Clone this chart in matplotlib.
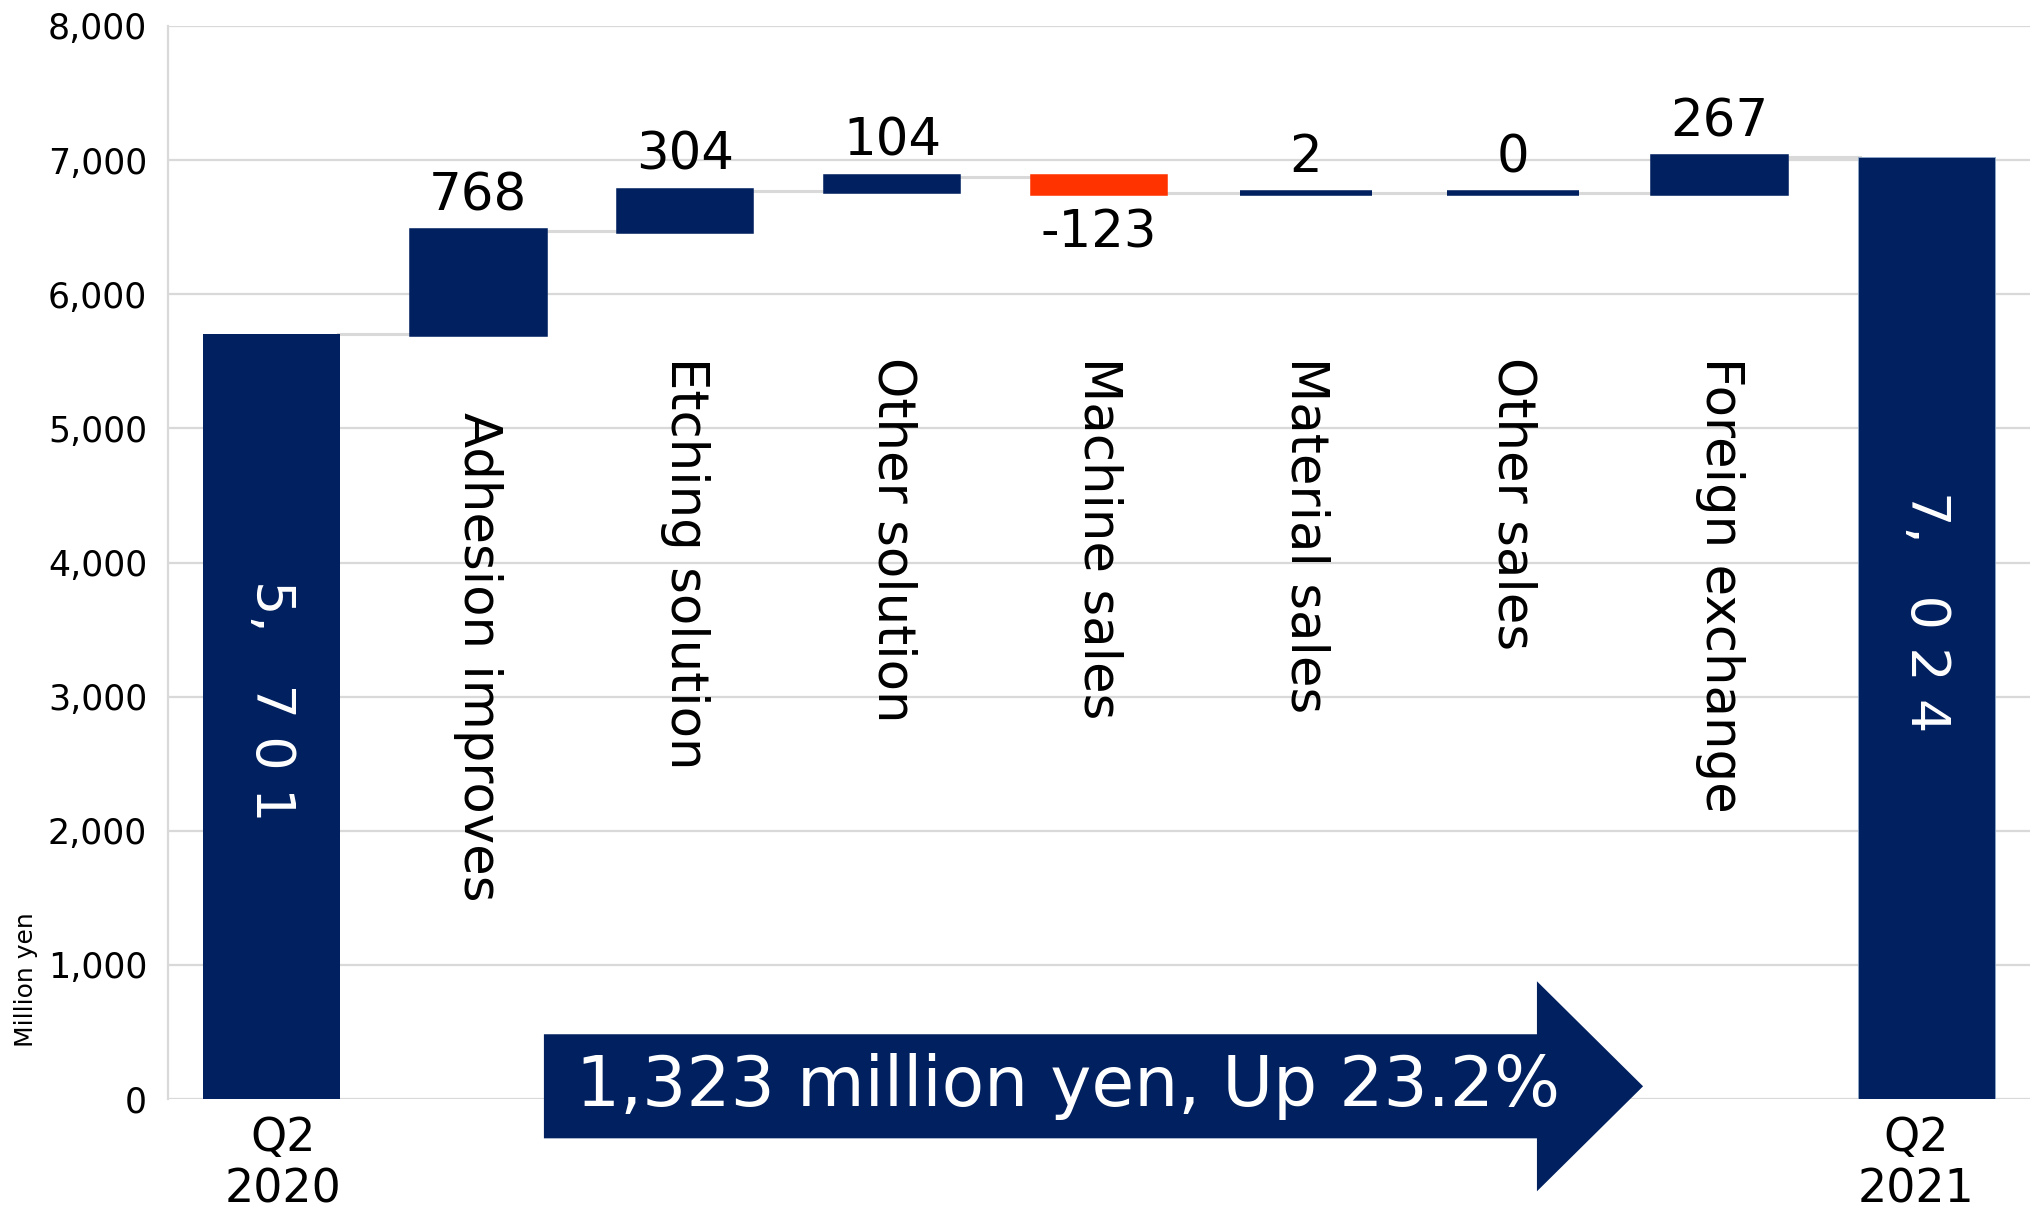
import matplotlib.pyplot as plt
import matplotlib.transforms as mtransforms
from matplotlib.patches import Polygon

# data
categories = ["Q2\n2020", "Adhesion improves", "Etching solution", "Other solution",
              "Machine sales", "Material sales", "Other sales", "Foreign exchange", "Q2\n2021"]
start_value = 5701
changes = [768, 304, 104, -123, 2, 0, 267]
end_value = 7024
label_tops = [5120, 5530, 5530, 5530, 5530, 5530, 5530]
arrow_text = "1,323 million yen, Up 23.2%"

navy = "#002060"
red = "#FF3300"
grey = "#D9D9D9"

fig = plt.figure(figsize=(20.34, 12.14), dpi=100)
ax = fig.add_axes([0.0826, 0.0947, 0.9154, 0.8839])

n = len(categories)
x = list(range(n))
w = 0.64

# running totals
bottoms, heights = [], []
level = start_value
for c in changes:
    bottoms.append(level if c >= 0 else level + c)
    heights.append(abs(c))
    level += c

ax.bar(x[0], start_value, width=0.665, color=navy, edgecolor=navy, lw=0, zorder=3)
ax.bar(x[-1], end_value, width=0.665, color=navy, edgecolor="#8EA9C8", lw=0.6, zorder=3)
cols = [navy if c >= 0 else red for c in changes]
ax.bar(x[1:-1], heights, bottom=bottoms, width=w, color=cols, edgecolor=cols, lw=4, zorder=3)

# connector lines
tops = [start_value]
level = start_value
for c in changes:
    level += c
    tops.append(level)
for i in range(n - 1):
    ax.plot([x[i] + w / 2, x[i + 1] - w / 2], [tops[i], tops[i]], color=grey, lw=2.2, zorder=2)

# value labels
for i, c in enumerate(changes):
    xi = x[i + 1]
    if c >= 0:
        ax.annotate(f"{c:,}", (xi, bottoms[i] + heights[i]), xytext=(0, 15), textcoords="offset points",
                    ha="center", va="baseline", fontsize=37, color="black")
    else:
        ax.annotate(f"{c:,}", (xi, bottoms[i]), xytext=(0, -11), textcoords="offset points",
                    ha="center", va="top", fontsize=37, color="black")


def spaced(v):
    head, tail = f"{v:,}".split(",")
    return head + ",   " + " ".join(tail)


ax.text(x[0], start_value / 2 + 120, spaced(start_value), rotation=-90, ha="center", va="center",
        fontsize=39, color="white", zorder=4)
ax.text(x[-1], end_value / 2 + 120, spaced(end_value), rotation=-90, ha="center", va="center",
        fontsize=39, color="white", zorder=4)

# category labels inside the chart
for i, name in enumerate(categories[1:-1]):
    ax.text(x[i + 1], label_tops[i], name, rotation=-90, ha="center", va="top",
            fontsize=37, color="black", zorder=4)

# axes styling
ax.set_xlim(-0.5, n - 0.5)
ax.set_ylim(0, 8000)
ax.set_yticks(range(0, 8001, 1000))
ax.set_yticklabels([f"{v:,}" for v in range(0, 8001, 1000)])
ax.set_xticks([x[0], x[-1]])
ax.set_xticklabels([categories[0], categories[-1]])
ax.tick_params(axis="y", length=0, pad=15, labelsize=25)
ax.tick_params(axis="x", length=0, pad=12, labelsize=33)
for lab, dx in zip(ax.get_xticklabels(), [12, -10]):
    lab.set_transform(lab.get_transform() + mtransforms.Affine2D().translate(dx, 0))
ax.grid(axis="y", color=grey, lw=1.6, zorder=0)
ax.set_axisbelow(True)
for s in ["top", "right", "bottom"]:
    ax.spines[s].set_visible(False)
ax.spines["left"].set_color(grey)
ax.spines["left"].set_linewidth(1.6)

fig.text(0.0128, 0.193, "Million yen", rotation=90, ha="center", va="center", fontsize=18)

# summary arrow
yc = 95
arrow = Polygon([(1.317, yc - 388), (6.117, yc - 388), (6.117, yc - 783), (6.63, yc),
                 (6.117, yc + 783), (6.117, yc + 388), (1.317, yc + 388)],
                closed=True, facecolor=navy, edgecolor="none", zorder=5, clip_on=False)
ax.add_patch(arrow)
ax.text(3.85, yc, arrow_text, ha="center", va="center", fontsize=50, color="white", zorder=6)

fig.savefig("out.png", dpi=100)
